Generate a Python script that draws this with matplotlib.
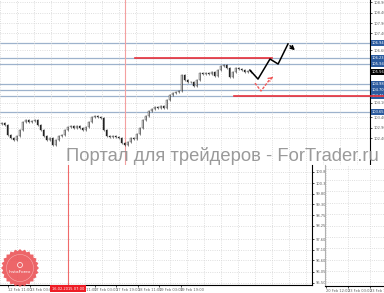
import numpy as np
import matplotlib
matplotlib.use("Agg")
import matplotlib.pyplot as plt
from matplotlib.patches import Polygon, Circle

W, H = 384, 293

# candle closes (main chart, one value per bar)
closes = [103.12, 103.03, 102.55, 102.40, 102.31, 102.50, 102.79, 103.17, 103.26, 103.17,
          103.22, 103.26, 103.03, 102.79, 102.50, 102.31, 102.40, 102.07, 102.31, 102.50,
          102.55, 102.79, 102.93, 102.98, 102.88, 102.98, 102.88, 102.79, 102.93, 103.17,
          103.41, 103.46, 103.41, 103.36, 102.79, 102.50, 102.45, 102.50, 102.45, 102.40,
          102.16, 102.07, 102.21, 102.40, 102.36, 102.59, 102.88, 103.26, 103.46, 103.69,
          103.79, 103.89, 103.84, 103.93, 103.84, 104.22, 104.46, 104.55, 104.60, 104.65,
          105.42, 105.18, 105.08, 105.08, 104.89, 105.18, 105.51, 105.46, 105.51, 105.46,
          105.56, 105.37, 105.65, 105.85, 105.89, 105.75, 105.32, 105.56, 105.75, 105.70,
          105.65, 105.56, 105.61, 105.56]
first_open = 103.05
wick = 0.04

levels = [106.94, 106.23, 105.94, 104.98, 104.70, 104.41, 103.65]
red_levels = [(106.23, 45.0, 90.7), (104.41, 78.0, 128.0)]
last_price = 105.56

# forecast paths (bar index, price)
black_x = [83.3, 86.0, 90.0, 92.7, 96.0, 99.0]
black_y = [105.65, 105.22, 106.18, 105.94, 106.90, 106.51]
red_x = [85.0, 87.0, 90.0, 91.0]
red_y = [105.03, 104.65, 105.22, 105.32]

main_ticks = [108.90, 108.40, 107.90, 107.40, 106.60, 104.10, 103.40, 102.90, 102.40]
low_ticks = [100.85, 100.30, 99.80, 99.30, 98.75, 98.25, 97.60, 97.10, 96.60, 96.05, 95.50]
date_pos = [-13.5, 8, 30, 51.5, 73, 94.5, 116, 137.5, 159, 180.5]
date_lbl = ["11 Feb 19:00", "12 Feb 11:00", "13 Feb 03:00", "13 Feb 19:00", "16 Feb 11:00",
            "17 Feb 03:00", "17 Feb 19:00", "18 Feb 11:00", "19 Feb 03:00", "19 Feb 19:00"]
side_pos = [1, 23, 45]
side_lbl = ["20 Feb 12:00", "23 Feb 03:00", "23 Feb 19:00"]
vline_main = 41.7
vline_low = 68
vline_label = "16.02.2015 07:00"

BLUE = "#9db2cc"
RED = "#e8303a"
GRID = "#d4d4d4"
TXT = "#606060"
FS = 2.6


def rect(x0, y0, x1, y1):
    return [x0 / W, 1 - y1 / H, (x1 - x0) / W, (y1 - y0) / H]


fig = plt.figure(figsize=(W / 100, H / 100), dpi=100)
fig.patch.set_facecolor("white")

# ---- main price chart
ax = fig.add_axes(rect(0, 0, 370, 165))
ax.set_xlim(0, 370 / 3)
ax.set_ylim(109.0 - 165 * 0.0478, 109.0)
for s in ["top", "left", "bottom"]:
    ax.spines[s].set_visible(False)
ax.spines["right"].set_linewidth(0.8)
ax.yaxis.tick_right()
ax.set_yticks(main_ticks)
ax.set_yticklabels(["%.2f" % v for v in main_ticks])
ax.tick_params(axis="y", labelsize=FS, colors="black", labelcolor=TXT, length=1.5, width=0.5, pad=1)
ax.set_xticks(np.arange(0, 124, 17 / 3))
ax.tick_params(axis="x", length=0, labelbottom=False)
ax.grid(True, color=GRID, linestyle=":", linewidth=0.6)

for lv in levels:
    ax.axhline(lv, color=BLUE, linewidth=0.9, zorder=1)
    ax.annotate("%.2f" % lv, xy=(1, lv), xycoords=("axes fraction", "data"), xytext=(1.0, 0),
                textcoords="offset points", fontsize=FS, color="white", va="center",
                bbox=dict(boxstyle="square,pad=0.2", fc="#2c5b9e", ec="none"), annotation_clip=False)
ax.annotate("%.2f" % last_price, xy=(1, last_price), xycoords=("axes fraction", "data"), xytext=(1.0, 0),
            textcoords="offset points", fontsize=FS, color="white", va="center",
            bbox=dict(boxstyle="square,pad=0.2", fc="black", ec="none"), annotation_clip=False)
for lv, x0, x1 in red_levels:
    ax.plot([x0, x1], [lv, lv], color=RED, linewidth=1.2, zorder=3, clip_on=False)

ax.axvline(vline_main, color="#f4a0a0", linewidth=0.8, zorder=1)

opens = [first_open] + closes[:-1]
idx = np.arange(len(closes)) + 0.5
for i, (o, c) in enumerate(zip(opens, closes)):
    lo, hi = min(o, c), max(o, c)
    ax.vlines(idx[i], lo - wick, hi + wick, color="#222222", linewidth=0.4, zorder=4)
    ax.bar(idx[i], max(hi - lo, 0.01), bottom=lo, width=0.6,
           color="white" if c >= o else "#222222", edgecolor="#222222", linewidth=0.25, zorder=5)

ax.plot(black_x[:-1], black_y[:-1], color="black", linewidth=1.1, zorder=6)
ax.annotate("", xy=(black_x[-1], black_y[-1]), xytext=(black_x[-2], black_y[-2]),
            arrowprops=dict(arrowstyle="->", color="black", lw=1.1, mutation_scale=6), zorder=6)
ax.plot(red_x[:-1], red_y[:-1], color="#f05a5a", linewidth=1.0, linestyle=(0, (2, 1)), zorder=6)
ax.annotate("", xy=(red_x[-1], red_y[-1]), xytext=(red_x[-2], red_y[-2]),
            arrowprops=dict(arrowstyle="->", color="#f05a5a", lw=1.0, linestyle="--", mutation_scale=6), zorder=6)

# ---- lower panel
axl = fig.add_axes(rect(0, 165, 312, 285))
axl.set_xlim(0, 312)
axl.set_ylim(95.40, 95.40 + 120 * 0.0482)
axl.spines["top"].set_visible(False)
axl.spines["left"].set_visible(False)
axl.spines["right"].set_linewidth(0.8)
axl.spines["bottom"].set_linewidth(0.8)
axl.yaxis.tick_right()
axl.set_yticks(low_ticks)
axl.set_yticklabels(["%.2f" % v for v in low_ticks])
axl.tick_params(axis="y", labelsize=FS, labelcolor=TXT, length=1.5, width=0.5, pad=1)
axl.set_xticks(date_pos)
axl.set_xticklabels(date_lbl, ha="left")
axl.tick_params(axis="x", labelsize=FS, labelcolor=TXT, length=1.5, width=0.5, pad=1)
axl.set_xticks(np.arange(0, 312, 17), minor=True)
axl.tick_params(axis="x", which="minor", length=0)
axl.grid(True, which="minor", axis="x", color=GRID, linestyle=":", linewidth=0.6)
axl.grid(True, which="major", axis="y", color=GRID, linestyle=":", linewidth=0.6)
axl.set_xlim(0, 312)
axl.axvline(vline_low, color="#f06a6a", linewidth=0.8)
axl.text(vline_low, -0.015, vline_label, transform=axl.get_xaxis_transform(), ha="center", va="top",
         fontsize=FS, color="white", zorder=10,
         bbox=dict(boxstyle="square,pad=0.4", fc="#ee1c25", ec="none"), clip_on=False)

# ---- side panel
axs = fig.add_axes(rect(325, 165, 384, 286))
axs.set_xlim(0, 59)
axs.set_ylim(0, 1)
axs.spines["top"].set_visible(False)
axs.spines["right"].set_visible(False)
axs.spines["left"].set_color("#b0b0b0")
axs.spines["bottom"].set_linewidth(0.8)
axs.set_yticks(np.linspace(0.03, 0.97, 11))
axs.set_yticklabels([])
axs.tick_params(axis="y", length=0)
axs.set_xticks(side_pos)
axs.set_xticklabels(side_lbl, ha="left")
axs.tick_params(axis="x", labelsize=FS, labelcolor=TXT, length=1.5, width=0.5, pad=1)
axs.grid(True, color=GRID, linestyle=":", linewidth=0.6)

# watermark
fig.text(222 / W, 1 - 156 / H, "Портал для трейдеров - ForTrader.ru", ha="center", va="center",
         fontsize=13.2, color="#8f8f8f", family=["Liberation Sans", "DejaVu Sans"], alpha=0.9)

# InstaForex badge
axb = fig.add_axes([0, 0, 1, 1], facecolor="none")
axb.set_xlim(0, W)
axb.set_ylim(H, 0)
axb.axis("off")
ang = np.linspace(0, 2 * np.pi, 49)[:-1]
rad = np.where(np.arange(48) % 2 == 0, 19.0, 17.0)
axb.add_patch(Polygon(np.c_[20 + rad * np.cos(ang), 268 + rad * np.sin(ang)], closed=True,
                      fc="#ea4b4f", ec="none", alpha=0.85))
axb.add_patch(Circle((20, 268), 13.5, fc="none", ec="white", lw=0.3, alpha=0.6))
axb.add_patch(Circle((20, 265), 2.5, fc="none", ec="white", lw=0.5))
axb.text(20, 272, "InstaForex", ha="center", va="center", fontsize=3.2, color="white")

fig.savefig("out.png", dpi=100)
